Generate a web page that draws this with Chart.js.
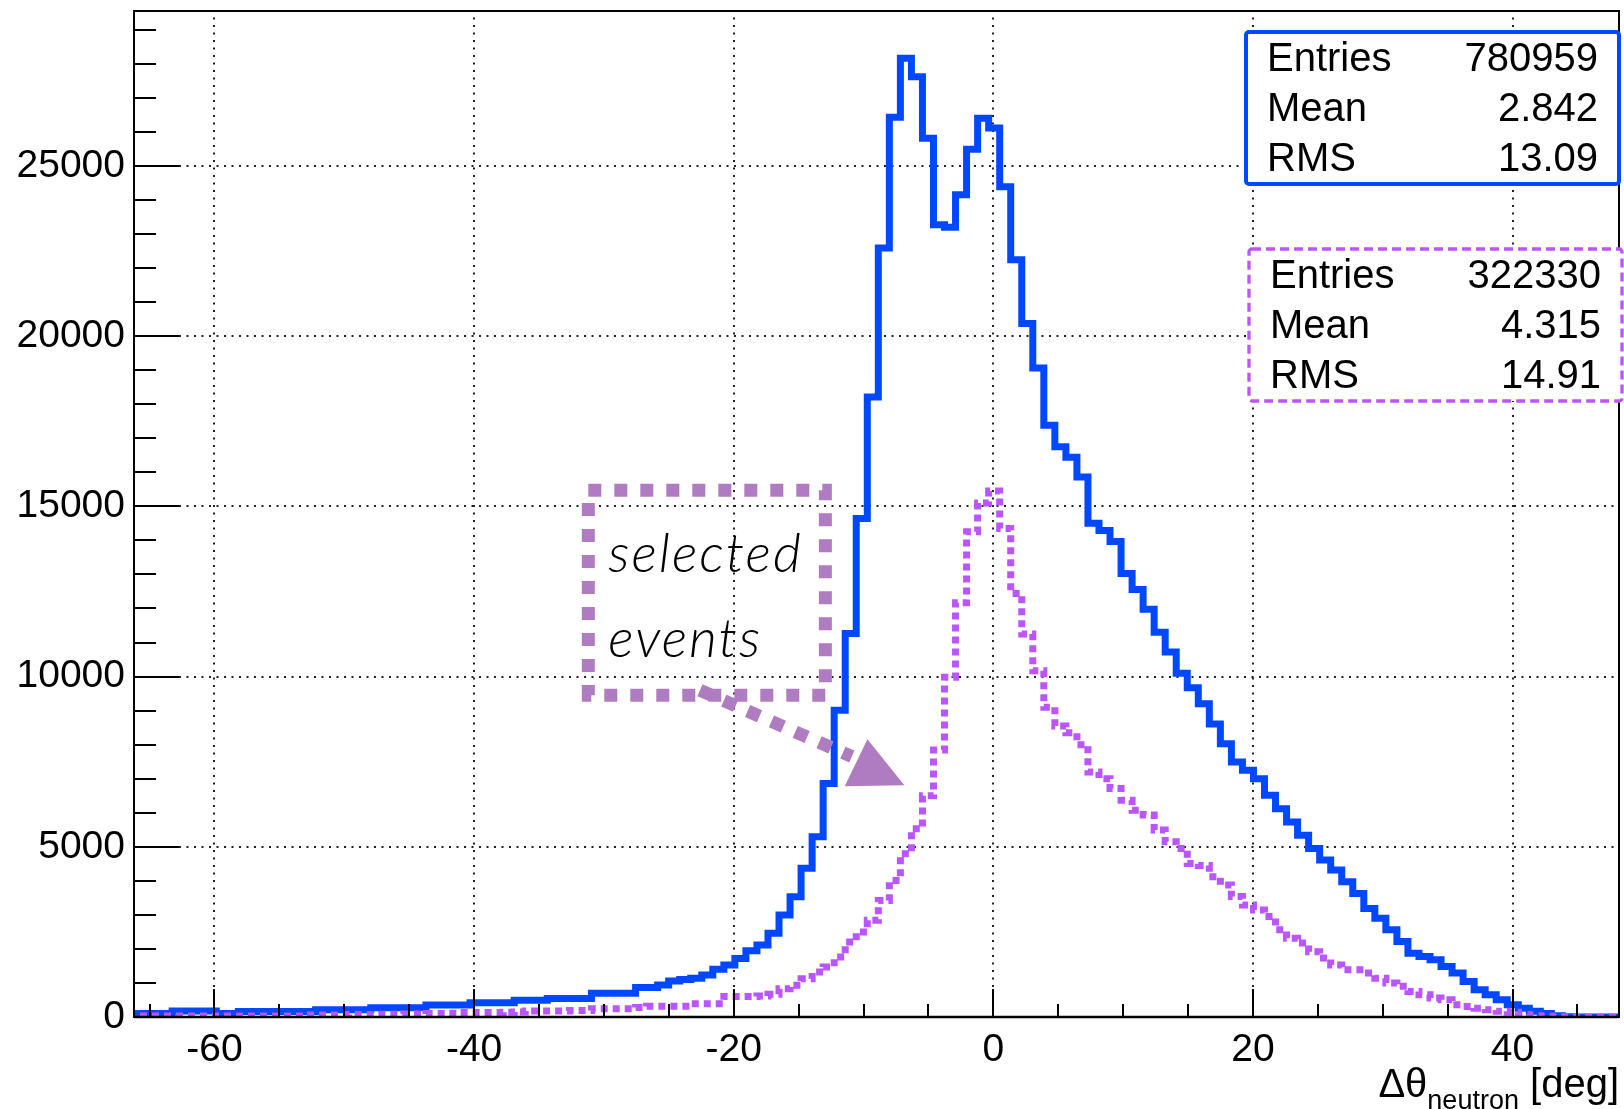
<!DOCTYPE html>
<html lang="en">
<head>
    <meta charset="UTF-8" />
    <title>Delta theta neutron</title>
    <script src="https://cdn.jsdelivr.net/npm/chart.js@4.4.1/dist/chart.umd.min.js"></script>
    <style>
        body {
            margin: 0;
            background: #ffffff;
        }
        #wrap {
            width: 1624px;
            height: 1109px;
        }
    </style>
</head>
<body>
    <div id="wrap"><canvas id="c" width="1624" height="1109"></canvas></div>

    <script>
        // === Histogram data ===
        const binLow = -66.66;   // low edge of first bin [deg]
        const binWidth = 0.85;   // bin width [deg]

        // all events (blue, solid)
        const blueCounts = [
            100, 100, 100, 100, 100, 175, 175, 175, 175, 100,
            100, 160, 160, 160, 160, 160, 160, 160, 210, 210,
            210, 210, 210, 275, 275, 275, 275, 275, 350, 350,
            350, 350, 420, 420, 420, 420, 490, 490, 490, 540,
            540, 540, 540, 695, 695, 695, 700, 870, 870, 940,
            1057, 1100, 1135, 1233, 1400, 1527, 1722, 1947, 2114, 2457,
            2995, 3533, 4366, 5294, 6861, 9013, 11265, 14642, 18210, 22585,
            26430, 28160, 27620, 25810, 23270, 23200, 24150, 25490, 26400, 26110,
            24390, 22240, 20370, 19060, 17380, 16750, 16440, 15860, 14500, 14290,
            13970, 13030, 12560, 11980, 11300, 10720, 10100, 9670, 9200, 8610,
            8030, 7490, 7250, 7000, 6510, 6120, 5730, 5340, 4950, 4610,
            4320, 3970, 3630, 3190, 2900, 2560, 2220, 1875, 1780, 1680,
            1480, 1290, 1045, 800, 650, 510, 360, 260, 170, 100,
            40, 10, 0, 0, 0, 0
        ];

        // selected events (purple, dotted)
        const purpleCounts = [
            30, 30, 30, 30, 30, 30, 30, 30, 30, 30,
            30, 30, 30, 30, 30, 30, 30, 60, 60, 60,
            60, 70, 70, 70, 80, 80, 90, 90, 100, 100,
            110, 130, 130, 130, 130, 140, 150, 175, 175, 175,
            175, 190, 190, 245, 245, 245, 245, 280, 313, 313,
            313, 313, 390, 390, 390, 600, 600, 600, 620, 665,
            830, 930, 1125, 1320, 1470, 1760, 2200, 2500, 2840, 3425,
            4010, 4795, 5530, 6500, 7840, 9980, 12170, 14250, 15100, 15450,
            14350, 12440, 11250, 10170, 9100, 8550, 8350, 8000, 7200, 7000,
            6710, 6370, 6070, 5930, 5490, 5150, 4950, 4510, 4450, 4120,
            3880, 3540, 3290, 3140, 2950, 2560, 2310, 2170, 1920, 1730,
            1530, 1390, 1390, 1290, 1140, 1000, 900, 750, 650, 560,
            510, 360, 310, 260, 215, 170, 140, 70, 40, 20,
            5, 0, 0, 0, 0, 0
        ];

        // axis ranges and ticks
        const xMin = -66.2, xMax = 48.2;
        const yMin = 0, yMax = 29550;
        const xMajorTicks = [-60, -40, -20, 0, 20, 40];
        const yMajorTicks = [0, 5000, 10000, 15000, 20000, 25000];
        const xMinorStep = 5;
        const yMinorStep = 1000;

        // stat boxes
        const statNames = ["Entries", "Mean", "RMS"];
        const blueStats = ["780959", "2.842", "13.09"];
        const purpleStats = ["322330", "4.315", "14.91"];

        // annotation text
        const noteLines = ["selected", "events"];

        const BLUE = "#0048ff";
        const PURPLE = "#bb55ff";
        const NOTE = "#b07cc1";
        const FONT = "'Liberation Sans', Arial, Helvetica, sans-serif";

        // histogram outline: one point per bin low edge, plus the last high edge
        function outline(counts) {
            const pts = counts.map((v, i) => ({ x: binLow + i * binWidth, y: v }));
            pts.push({ x: binLow + counts.length * binWidth, y: counts[counts.length - 1] });
            return pts;
        }

        // === ROOT-like decorations ===
        const rootStyle = {
            id: "rootStyle",
            beforeDatasetsDraw(chart) {
                const { ctx, chartArea: a, scales: { x, y } } = chart;
                ctx.save();
                ctx.strokeStyle = "#222";
                ctx.lineWidth = 2;
                ctx.setLineDash([2, 5.5]);
                xMajorTicks.forEach((v) => {
                    const px = Math.round(x.getPixelForValue(v));
                    ctx.beginPath();
                    ctx.moveTo(px, a.bottom);
                    ctx.lineTo(px, a.top);
                    ctx.stroke();
                });
                yMajorTicks.forEach((v) => {
                    if (v === yMin) return;
                    const py = Math.round(y.getPixelForValue(v));
                    ctx.beginPath();
                    ctx.moveTo(a.left, py);
                    ctx.lineTo(a.right, py);
                    ctx.stroke();
                });
                ctx.restore();
            },
            afterDatasetsDraw(chart) {
                const { ctx, chartArea: a, scales: { x, y } } = chart;
                ctx.save();

                // frame
                ctx.setLineDash([]);
                ctx.strokeStyle = "#000";
                ctx.lineWidth = 2;
                ctx.strokeRect(a.left, a.top, a.right - a.left, a.bottom - a.top);
                ctx.lineWidth = 2.5;
                ctx.beginPath();
                ctx.moveTo(a.left, a.bottom);
                ctx.lineTo(a.right, a.bottom);
                ctx.stroke();

                // ticks (inside the frame)
                ctx.lineWidth = 2;
                for (let v = Math.ceil(xMin / xMinorStep) * xMinorStep; v <= xMax; v += xMinorStep) {
                    const px = Math.round(x.getPixelForValue(v));
                    const len = xMajorTicks.includes(v) ? 28 : 13;
                    ctx.beginPath();
                    ctx.moveTo(px, a.bottom);
                    ctx.lineTo(px, a.bottom - len);
                    ctx.stroke();
                }
                for (let v = yMin; v <= yMax; v += yMinorStep) {
                    const py = Math.round(y.getPixelForValue(v));
                    const len = yMajorTicks.includes(v) ? 45 : 22;
                    ctx.beginPath();
                    ctx.moveTo(a.left, py);
                    ctx.lineTo(a.left + len, py);
                    ctx.stroke();
                }

                // stat boxes
                function statBox(top, right, color, dash, lw, values) {
                    const w = 373, h = 152;
                    const left = right - w;
                    ctx.fillStyle = "#fff";
                    ctx.fillRect(left, top, w, h);
                    ctx.strokeStyle = color;
                    ctx.lineWidth = lw;
                    ctx.setLineDash(dash);
                    ctx.beginPath();
                    ctx.roundRect(left, top, w, h, 3);
                    ctx.stroke();
                    ctx.setLineDash([]);
                    ctx.fillStyle = "#000";
                    ctx.font = `40px ${FONT}`;
                    ctx.textBaseline = "alphabetic";
                    statNames.forEach((name, i) => {
                        const base = top + 39 + i * 50;
                        ctx.textAlign = "left";
                        ctx.fillText(name, left + 21, base);
                        ctx.textAlign = "right";
                        ctx.fillText(values[i], right - 21, base);
                    });
                }
                statBox(a.top + 21, a.right, BLUE, [], 4, blueStats);
                statBox(a.top + 238, a.right + 3, PURPLE, [9, 5], 3.3, purpleStats);

                // axis title: Δθ_neutron [deg]
                ctx.fillStyle = "#000";
                ctx.textAlign = "left";
                ctx.textBaseline = "alphabetic";
                const big = `40px ${FONT}`, small = `27px ${FONT}`;
                ctx.font = big;
                const w1 = ctx.measureText("\u0394\u03b8").width;
                const w3 = ctx.measureText(" [deg]").width;
                ctx.font = small;
                const w2 = ctx.measureText("neutron").width;
                let tx = a.right - (w1 + w2 + w3);
                const base = a.bottom + 80;
                ctx.font = big;
                ctx.fillText("\u0394\u03b8", tx, base);
                tx += w1;
                ctx.font = small;
                ctx.fillText("neutron", tx, base + 12);
                tx += w2;
                ctx.font = big;
                ctx.fillText(" [deg]", tx, base);

                // "selected events" annotation
                ctx.strokeStyle = NOTE;
                ctx.fillStyle = NOTE;
                ctx.lineWidth = 13;
                ctx.lineCap = "butt";
                ctx.setLineDash([13, 13]);
                const rx0 = x.getPixelForValue(-31.2), rx1 = x.getPixelForValue(-12.94);
                const ry0 = y.getPixelForValue(15473), ry1 = y.getPixelForValue(9454);
                ctx.strokeRect(rx0, ry0, rx1 - rx0, ry1 - ry0);

                ctx.beginPath();
                ctx.moveTo(x.getPixelForValue(-22.6), y.getPixelForValue(9600));
                ctx.lineTo(x.getPixelForValue(-10.9), y.getPixelForValue(7650));
                ctx.stroke();
                ctx.setLineDash([]);
                ctx.beginPath();
                ctx.moveTo(x.getPixelForValue(-9.7), y.getPixelForValue(8160));
                ctx.lineTo(x.getPixelForValue(-11.45), y.getPixelForValue(6780));
                ctx.lineTo(x.getPixelForValue(-6.85), y.getPixelForValue(6810));
                ctx.closePath();
                ctx.fill();

                ctx.fillStyle = "#000";
                ctx.font = "italic 300 54px Lato, 'Open Sans', sans-serif";
                ctx.letterSpacing = "2px";
                ctx.textAlign = "left";
                ctx.fillText(noteLines[0], x.getPixelForValue(-29.66), y.getPixelForValue(13074));
                ctx.fillText(noteLines[1], x.getPixelForValue(-29.66), y.getPixelForValue(10578));
                ctx.letterSpacing = "0px";

                ctx.restore();
            }
        };

        const ctx = document.getElementById("c").getContext("2d");
        new Chart(ctx, {
            type: "line",
            data: {
                datasets: [
                    {
                        label: "all",
                        data: outline(blueCounts),
                        borderColor: BLUE,
                        borderWidth: 7,
                        stepped: "after",
                        pointRadius: 0,
                        fill: false,
                        borderJoinStyle: "miter",
                        order: 2
                    },
                    {
                        label: "selected",
                        data: outline(purpleCounts),
                        borderColor: PURPLE,
                        borderWidth: 7,
                        borderDash: [7, 5],
                        stepped: "after",
                        pointRadius: 0,
                        fill: false,
                        borderJoinStyle: "miter",
                        order: 1
                    }
                ]
            },
            options: {
                responsive: false,
                animation: false,
                layout: { padding: { left: 0, right: 5, top: 11, bottom: 0 } },
                plugins: {
                    legend: { display: false },
                    tooltip: { enabled: false }
                },
                scales: {
                    x: {
                        type: "linear",
                        min: xMin,
                        max: xMax,
                        grid: { display: false },
                        border: { display: false },
                        afterFit: (s) => {
                            s.height = 92;
                            s.paddingLeft = 0;
                            s.paddingRight = 0;
                        },
                        afterBuildTicks: (s) => { s.ticks = xMajorTicks.map((v) => ({ value: v })); },
                        ticks: {
                            color: "#000",
                            padding: 2,
                            maxRotation: 0,
                            autoSkip: false,
                            font: { family: FONT, size: 39 },
                            callback: (v) => String(v)
                        }
                    },
                    y: {
                        min: yMin,
                        max: yMax,
                        grid: { display: false },
                        border: { display: false },
                        afterFit: (s) => {
                            s.width = 134;
                            s.paddingTop = 0;
                            s.paddingBottom = 0;
                        },
                        afterBuildTicks: (s) => { s.ticks = yMajorTicks.map((v) => ({ value: v })); },
                        ticks: {
                            color: "#000",
                            padding: 1,
                            autoSkip: false,
                            font: { family: FONT, size: 39 },
                            callback: (v) => String(v)
                        }
                    }
                }
            },
            plugins: [rootStyle]
        });
    </script>
</body>
</html>
